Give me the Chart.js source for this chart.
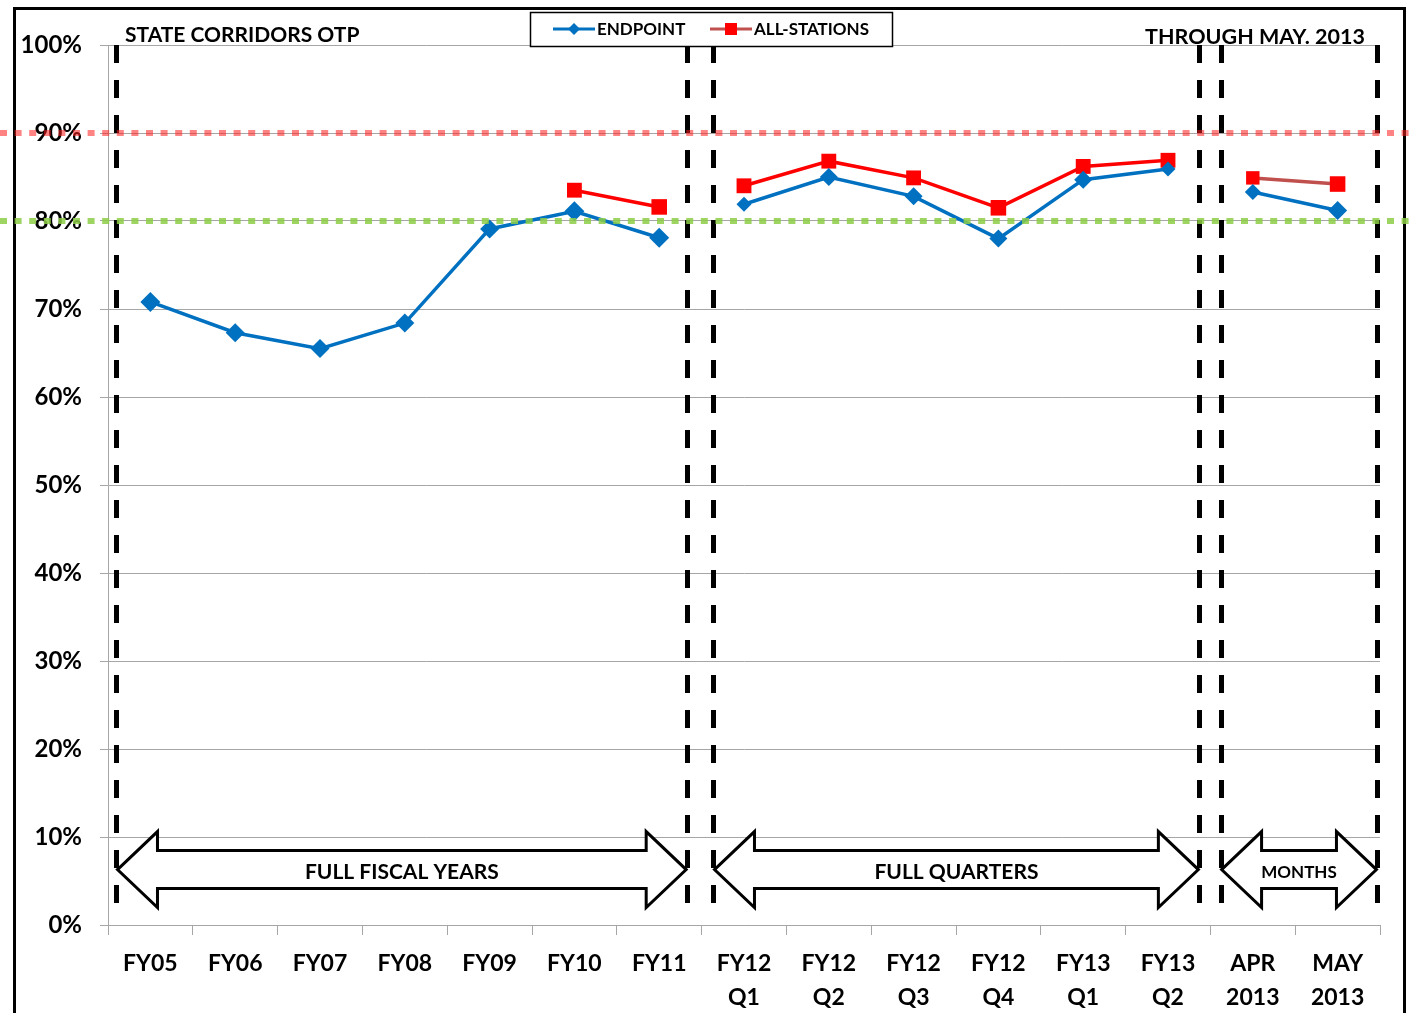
<!DOCTYPE html>
<html>
<head>
<meta charset="utf-8">
<script src="https://cdn.jsdelivr.net/npm/chart.js@4.4.1/dist/chart.umd.min.js"></script>
<style>
  html, body { margin: 0; padding: 0; background: #fff; }
  #wrap { width: 1410px; height: 1013px; position: relative; }
</style>
</head>
<body>
<div id="wrap"><canvas id="otp" width="1410" height="1013"></canvas></div>
<script>
// Periods on the x axis (two-line labels)
const categories = [
  ['FY05'], ['FY06'], ['FY07'], ['FY08'], ['FY09'], ['FY10'], ['FY11'],
  ['FY12', 'Q1'], ['FY12', 'Q2'], ['FY12', 'Q3'], ['FY12', 'Q4'],
  ['FY13', 'Q1'], ['FY13', 'Q2'], ['APR', '2013'], ['MAY', '2013']
];

// On-time performance, percent
const endpoint = [70.8, 67.3, 65.5, 68.4, 79.1, 81.1, 78.1, 81.9, 85.0, 82.8, 78.0, 84.7, 85.9, 83.3, 81.2];
const allStations = [null, null, null, null, null, 83.5, 81.6, 84.0, 86.8, 84.9, 81.5, 86.2, 86.9, 84.9, 84.2];

// Target lines, percent
const targetHigh = 90;
const targetLow = 80;

// Y axis ticks
const yTicks = [0, 10, 20, 30, 40, 50, 60, 70, 80, 90, 100];

// Period groups: [label, first index, last index]
const groups = [
  ['FULL FISCAL YEARS', 0, 6],
  ['FULL QUARTERS', 7, 12],
  ['MONTHS', 13, 14]
];

const FONT = 'Lato, "Open Sans", "DejaVu Sans", sans-serif';
const BLUE = '#0070C0';
const RED = '#FF0000';
const BROWN = '#C0504D';

// segments that cross a group boundary are not drawn
const breaks = [6, 12];
const hideBreak = ctx => breaks.includes(ctx.p0DataIndex) ? 'rgba(0,0,0,0)' : undefined;

const decor = {
  id: 'decor',
  beforeDraw(chart) {
    const c = chart.ctx;
    c.save();
    c.fillStyle = '#fff';
    c.fillRect(0, 0, chart.width, chart.height);
    // outer frame
    c.strokeStyle = '#000';
    c.lineWidth = 3;
    c.beginPath();
    c.moveTo(14.5, chart.height + 10);
    c.lineTo(14.5, 8.5);
    c.lineTo(1404.5, 8.5);
    c.lineTo(1404.5, chart.height + 10);
    c.stroke();
    c.restore();
  },
  afterDatasetsDraw(chart) {
    const c = chart.ctx;
    const xs = chart.scales.x, ys = chart.scales.y;
    const x0 = xs.getPixelForValue(0);
    const w = xs.getPixelForValue(1) - x0;
    const px = u => x0 + u * w;

    // group dividers (dashed black)
    const dividers = [-0.4, 6.33, 6.64, 12.37, 12.62, 14.47];
    c.save();
    c.strokeStyle = '#000';
    c.lineWidth = 5;
    c.setLineDash([18, 17]);
    dividers.forEach(u => {
      const x = Math.round(px(u)) + 0.5;
      c.beginPath();
      c.moveTo(x, ys.getPixelForValue(100));
      c.lineTo(x, ys.getPixelForValue(0.8));
      c.stroke();
    });
    c.restore();

    // double-headed arrows with group names
    const spans = [[-0.4, 6.33], [6.64, 12.37], [12.62, 14.47]];
    const yc = ys.getPixelForValue(6.3);
    const headH = 38, shaftH = 19, headL = 40;
    c.save();
    groups.forEach((g, i) => {
      const a = px(spans[i][0]) + 1, b = px(spans[i][1]) - 1;
      c.beginPath();
      c.moveTo(a, yc);
      c.lineTo(a + headL, yc - headH);
      c.lineTo(a + headL, yc - shaftH);
      c.lineTo(b - headL, yc - shaftH);
      c.lineTo(b - headL, yc - headH);
      c.lineTo(b, yc);
      c.lineTo(b - headL, yc + headH);
      c.lineTo(b - headL, yc + shaftH);
      c.lineTo(a + headL, yc + shaftH);
      c.lineTo(a + headL, yc + headH);
      c.closePath();
      c.fillStyle = '#fff';
      c.fill();
      c.strokeStyle = '#000';
      c.lineWidth = 3;
      c.lineJoin = 'miter';
      c.stroke();
      c.fillStyle = '#000';
      c.font = (i === 2 ? 'bold 17px ' : 'bold 21px ') + FONT;
      c.textAlign = 'center';
      c.textBaseline = 'middle';
      c.fillText(g[0], (a + b) / 2, yc + 3);
    });
    c.restore();

    // target lines (dotted, full width)
    const target = (v, color) => {
      const y = ys.getPixelForValue(v);
      c.save();
      c.strokeStyle = color;
      c.lineWidth = 6;
      c.setLineDash([7, 7.6]);
      c.beginPath();
      c.moveTo(0, y);
      c.lineTo(chart.width, y);
      c.stroke();
      c.restore();
    };
    target(targetHigh, 'rgba(255,30,30,0.55)');
    target(targetLow, 'rgba(140,205,70,0.85)');
  },
  afterDraw(chart) {
    const c = chart.ctx;
    c.save();
    c.fillStyle = '#000';
    c.font = 'bold 21px ' + FONT;
    c.textBaseline = 'alphabetic';
    c.textAlign = 'left';
    c.fillText('STATE CORRIDORS OTP', 125, 42);
    c.font = 'bold 21.5px ' + FONT;
    c.textAlign = 'right';
    c.fillText('THROUGH MAY. 2013', 1365, 44);

    // legend box
    c.fillStyle = '#fff';
    c.fillRect(530, 12, 362, 34);
    c.strokeStyle = '#000';
    c.lineWidth = 1.5;
    c.strokeRect(530.5, 12.5, 362, 34);
    const ly = 29;
    const items = [
      { x: 553, line: BLUE, mark: BLUE, shape: 'diamond', label: chart.data.datasets[0].label },
      { x: 710, line: BROWN, mark: RED, shape: 'square', label: chart.data.datasets[1].label }
    ];
    items.forEach(it => {
      c.strokeStyle = it.line;
      c.lineWidth = 3;
      c.beginPath();
      c.moveTo(it.x, ly);
      c.lineTo(it.x + 42, ly);
      c.stroke();
      c.fillStyle = it.mark;
      const mx = it.x + 21;
      if (it.shape === 'diamond') {
        c.beginPath();
        c.moveTo(mx, ly - 6); c.lineTo(mx + 6, ly); c.lineTo(mx, ly + 6); c.lineTo(mx - 6, ly);
        c.closePath(); c.fill();
      } else {
        c.fillRect(mx - 6, ly - 6, 12, 12);
      }
      c.fillStyle = '#000';
      c.font = 'bold 17px ' + FONT;
      c.textAlign = 'left';
      c.textBaseline = 'middle';
      c.fillText(it.label, it.x + 44, ly + 1);
    });
    c.restore();
  }
};

new Chart(document.getElementById('otp'), {
  type: 'line',
  data: {
    labels: categories,
    datasets: [
      {
        label: 'ENDPOINT',
        data: endpoint,
        borderColor: BLUE,
        backgroundColor: BLUE,
        borderWidth: 3.5,
        pointStyle: 'rectRot',
        pointRadius: [10, 9.5, 9.5, 9.5, 9.5, 10, 10, 7.5, 9, 9, 9, 9, 7.5, 8, 9.5],
        pointBorderWidth: 0,
        segment: { borderColor: hideBreak },
        tension: 0,
        spanGaps: false
      },
      {
        label: 'ALL-STATIONS',
        data: allStations,
        borderColor: RED,
        backgroundColor: RED,
        borderWidth: 3.5,
        pointStyle: 'rect',
        pointRadius: [0, 0, 0, 0, 0, 10.5, 11, 10.5, 10.5, 10.5, 11, 10.5, 10.5, 9.5, 11],
        pointBorderWidth: 0,
        segment: {
          borderColor: ctx => breaks.includes(ctx.p0DataIndex) ? 'rgba(0,0,0,0)'
            : (ctx.p0DataIndex >= 13 ? BROWN : undefined)
        },
        tension: 0,
        spanGaps: false
      }
    ]
  },
  options: {
    responsive: false,
    animation: false,
    events: [],
    layout: { padding: { left: 0, top: 45, right: 30, bottom: 0 } },
    plugins: {
      legend: { display: false },
      title: { display: false },
      tooltip: { enabled: false }
    },
    scales: {
      x: {
        offset: true,
        afterFit: s => { s.height = 88; },
        grid: {
          offset: true,
          drawOnChartArea: false,
          tickLength: 10,
          color: '#A6A6A6',
          lineWidth: 1
        },
        border: { color: '#A6A6A6', width: 1 },
        ticks: {
          color: '#000',
          padding: 11,
          maxRotation: 0,
          autoSkip: false,
          font: { family: FONT, size: 23, weight: 'bold', lineHeight: 1.5 }
        }
      },
      y: {
        min: 0,
        max: 100,
        afterFit: s => { s.width = 108; },
        afterBuildTicks: s => { s.ticks = yTicks.map(v => ({ value: v })); },
        grid: { color: '#A6A6A6', lineWidth: 1, tickLength: 8 },
        border: { color: '#A6A6A6', width: 1 },
        ticks: {
          color: '#000',
          padding: 18,
          callback: v => v + '%',
          font: { family: FONT, size: 24, weight: 'bold' }
        }
      }
    }
  },
  plugins: [decor]
});
</script>
</body>
</html>
